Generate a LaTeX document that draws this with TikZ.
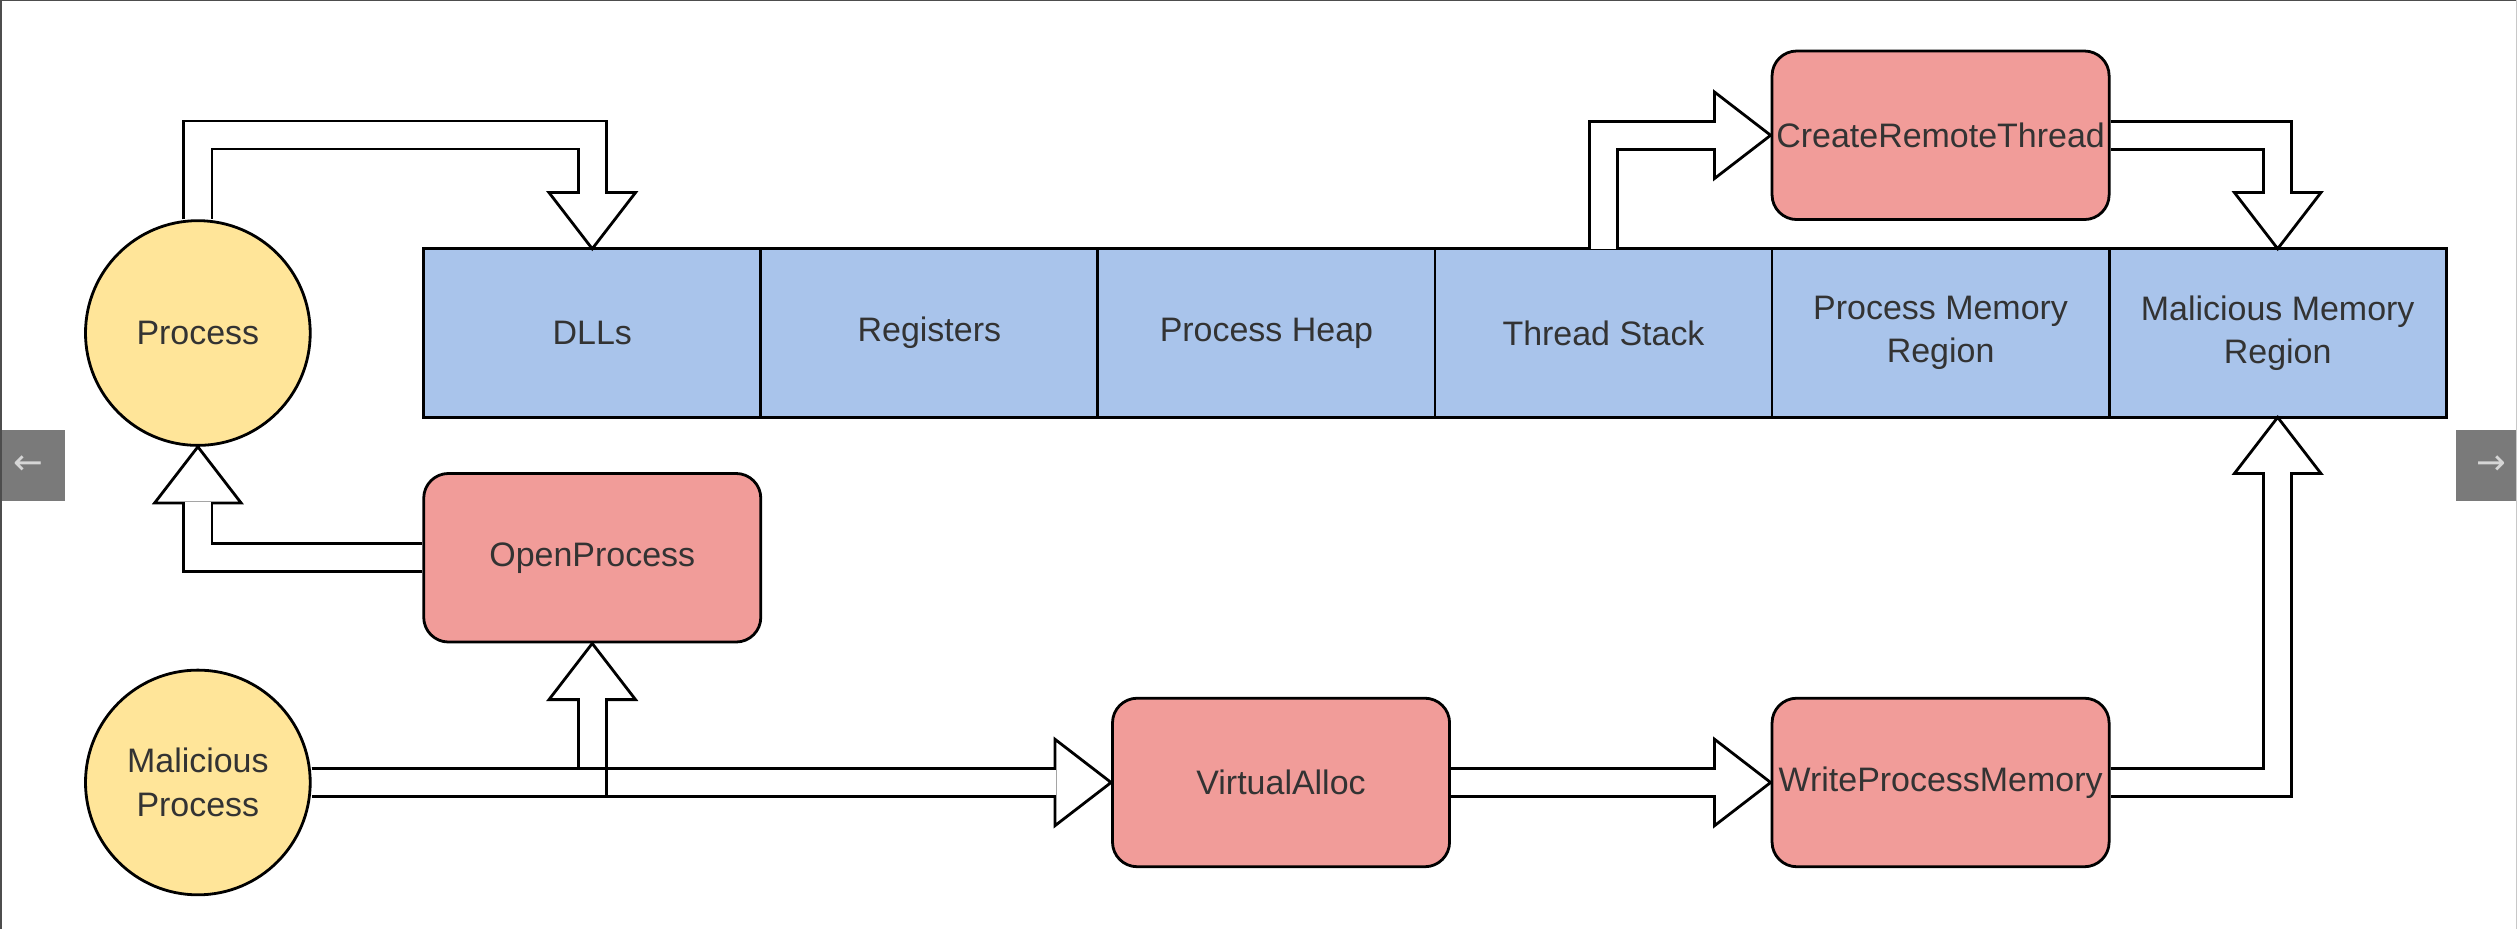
\documentclass[tikz,border=0pt]{standalone}
\usepackage{fontspec}
\setmainfont{Liberation Sans}
\newfontfamily\navfont{DejaVu Sans}
\usetikzlibrary{positioning, calc}

\definecolor{procyellow}{HTML}{FFE599}
\definecolor{memblue}{HTML}{A9C4EB}
\definecolor{apired}{HTML}{F19C99}
\definecolor{txtgray}{HTML}{333333}
\definecolor{navgray}{HTML}{7A7A7A}
\definecolor{navarrow}{HTML}{D6D6D6}
\definecolor{framedark}{HTML}{4D4D4D}
\definecolor{framelight}{HTML}{C8C8C8}

% hohler Pfeilkopf: Spitze, Richtung
\newcommand{\fathead}[2]{\filldraw[tipshape, shift={(#1)}, rotate=#2] (0,0) -- (-0.5,0.385) -- (-0.5,-0.385) -- cycle;}

\begin{document}
\begin{tikzpicture}[
        line width=0.71pt,
        every node/.style={font=\fontsize{8.6}{11}\selectfont, text=txtgray, align=center},
        cell/.style={draw, rectangle, fill=memblue, minimum width=3cm, minimum height=1.5cm, outer sep=0pt},
        procnode/.style={draw, circle, fill=procyellow, minimum size=2cm, inner sep=0pt},
        apicall/.style={draw, rectangle, rounded corners=0.22cm, fill=apired, minimum width=3cm, minimum height=1.5cm, inner sep=0.5pt},
        fatshaft/.style={draw=black, double=white, double distance=6.4pt, line join=miter, shorten >=-0.36pt},
        tipshape/.style={draw=black, fill=white, line join=miter},
        navbtn/.style={fill=navgray, minimum width=0.578cm, minimum height=0.632cm, inner sep=0pt},
        navsign/.style={font=\navfont\fontsize{9}{9}\selectfont, text=navarrow, inner sep=0pt}
    ]
    
    % Bildgröße
    \coordinate (sw) at (-0.271,-0.304);
    \coordinate (ne) at (22.130,7.964);
    \useasboundingbox (sw) rectangle (ne);
    \fill[white] (sw) rectangle (ne);
    
    % Prozesse
    \node[procnode] (proc) at (1.49,5) {Process};
    \node[procnode] (mal) at (1.49,1) {Malicious\\Process};
    
    % Speicher des Zielprozesses
    \node[cell] (dll) at (5,5) {DLLs};
    \node[cell, right=0pt of dll] (reg) {Registers};
    \node[cell, right=0pt of reg] (heap) {Process Heap};
    \node[cell, right=0pt of heap] (tstack) {Thread Stack};
    \node[cell, right=0pt of tstack] (pmem) {Process Memory\\Region};
    \node[cell, right=0pt of pmem] (mmem) {Malicious Memory\\Region};
    
    % API-Aufrufe
    \node[apicall] (open) at (5,3) {OpenProcess};
    \node[apicall] (va) at (11.13,1) {VirtualAlloc};
    \node[apicall] (wpm) at (17,1) {WriteProcessMemory};
    \node[apicall] (crt) at (17,6.76) {CreateRemoteThread};
    
    % Pfeilköpfe
    \fathead{dll.north}{-90}
    \fathead{proc.south}{90}
    \fathead{open.south}{90}
    \fathead{va.west}{0}
    \fathead{wpm.west}{0}
    \fathead{mmem.south}{90}
    \fathead{crt.west}{0}
    \fathead{mmem.north}{-90}
    
    % Pfeilschäfte
    \draw[fatshaft] (proc.north) -- ++(0,0.75) -| ([yshift=0.5cm]dll.north);
    \draw[fatshaft] (open.west) -| ([yshift=-0.5cm]proc.south);
    \draw[fatshaft] (mal.east) -- ([xshift=-0.5cm]va.west);
    \draw[fatshaft] (mal.east) -| ([yshift=-0.5cm]open.south);
    \draw ([yshift=0.125cm]mal.east) -- ([shift={(-0.5cm,0.125cm)}]va.west);
    \draw[fatshaft] (va.east) -- ([xshift=-0.5cm]wpm.west);
    \draw[fatshaft] (wpm.east) -| ([yshift=-0.5cm]mmem.south);
    \draw[fatshaft] (tstack.north) |- ([xshift=-0.5cm]crt.west);
    \draw[fatshaft] (crt.east) -| ([yshift=0.5cm]mmem.north);
    
    % Navigation
    \node[navbtn] (navl) at (0.018,3.82) {};
    \node[navsign] (navlsign) at (-0.022,3.825) {←};
    \node[navbtn, minimum width=0.543cm] (navr) at (21.858,3.82) {};
    \node[navsign] (navrsign) at (21.899,3.825) {→};
    
    % Rahmen
    \draw[framedark, line width=0.76pt] (sw) -- (sw |- ne) -- (ne);
    \draw[framelight, line width=0.6pt] (ne) -- (ne |- sw);
    
\end{tikzpicture}
\end{document}
